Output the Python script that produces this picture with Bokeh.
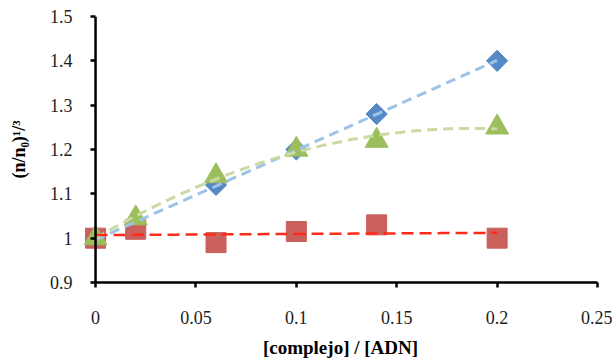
import numpy as np
from bokeh.plotting import figure
from bokeh.models import Range1d, LinearAxis, Span
from bokeh.embed import file_html
from bokeh.resources import INLINE

x = [0.0, 0.02, 0.06, 0.10, 0.14, 0.20]
blue_y = [1.00, 1.03, 1.12, 1.20, 1.28, 1.40]
red_y = [1.00, 1.02, 0.99, 1.015, 1.03, 1.00]
green_y = [1.00, 1.045, 1.14, 1.20, 1.22, 1.25]

x_ticks = [0, 0.05, 0.1, 0.15, 0.2, 0.25]
y_ticks = [0.9, 1.0, 1.1, 1.2, 1.3, 1.4, 1.5]

FONT = "Liberation Serif"

W, H = 612, 363
p = figure(width=W, height=H, output_backend="svg", toolbar_location=None,
           x_range=Range1d(-0.006, 0.25), y_range=Range1d(0.9, 1.5),
           x_axis_location=None, y_axis_location=None,
           min_border_left=83, min_border_right=W - 597, min_border_top=16,
           min_border_bottom=H - 282)
p.outline_line_color = None
p.xgrid.visible = False
p.ygrid.visible = False
p.background_fill_color = "white"
p.border_fill_color = "white"

xa = LinearAxis(ticker=x_ticks, bounds=(0, 0.25))
ya = LinearAxis(ticker=y_ticks)
for ax in (xa, ya):
    ax.axis_line_width = 2.5
    ax.axis_line_color = "black"
    ax.major_tick_line_width = 2.5
    ax.major_tick_line_color = "black"
    ax.major_tick_in = 0
    ax.major_tick_out = 5
    ax.minor_tick_line_color = None
    ax.major_label_text_font = FONT
    ax.major_label_text_font_size = "18px"
    ax.major_label_text_color = "#222222"
    ax.axis_label_text_font = FONT
    ax.axis_label_text_font_style = "bold"
    ax.axis_label_text_color = "black"
xa.axis_label = "[complejo] / [ADN]"
xa.axis_label_text_font_size = "19px"
xa.major_label_standoff = 23
xa.axis_label_standoff = 10
xa.major_label_overrides = {0: "0", 0.05: "0.05", 0.1: "0.1", 0.15: "0.15", 0.2: "0.2", 0.25: "0.25"}

ya.axis_label = "(n/n₀)¹/³"
ya.axis_label_text_font_size = "18px"
ya.axis_line_color = None
ya.major_tick_in = 12
ya.major_tick_out = -7
ya.major_label_standoff = 11
ya.axis_label_standoff = 18
ya.major_label_overrides = {0.9: "0.9", 1.0: "1", 1.1: "1.1", 1.2: "1.2", 1.3: "1.3", 1.4: "1.4", 1.5: "1.5"}
p.add_layout(xa, "below")
p.add_layout(ya, "left")

# y axis line at x = 0
p.add_layout(Span(location=0, dimension="height", line_color="black", line_width=2.5))

# markers
p.scatter(x, blue_y, marker="square", angle=np.pi / 4, size=15,
          fill_color="#5489C6", line_color="#5489C6")
p.scatter(x, red_y, marker="square", size=20,
          fill_color="#C9605B", line_color="#C9605B")
p.scatter(x, green_y, marker="triangle", size=23,
          fill_color="#9DBE5C", line_color="#9DBE5C")

# trendlines computed from the data
xs = np.linspace(0, 0.2, 60)
cb = np.polyfit(x, blue_y, 1)
cr = np.polyfit(x, red_y, 1)
cg = np.polyfit(x, green_y, 2)
p.line(xs, np.polyval(cb, xs), line_color="#9DC3E6", line_width=3, line_dash="10 6")
p.line(xs, np.polyval(cg, xs), line_color="#C9DAA3", line_width=3, line_dash="10 6")
p.line(xs, np.polyval(cr, xs), line_color="#FF2A1A", line_width=2.5, line_dash="12 6")

open("out.html", "w").write(file_html(p, INLINE))
